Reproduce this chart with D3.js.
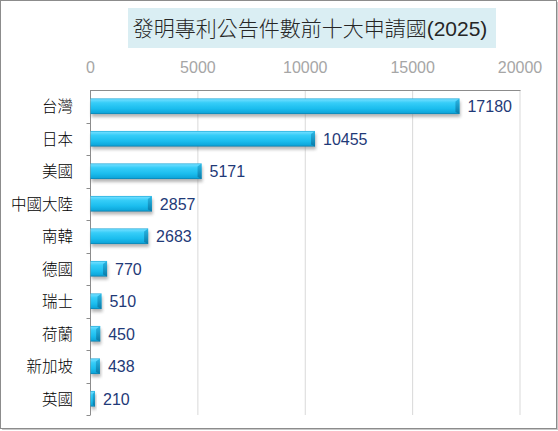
<!DOCTYPE html>
<html>
<head>
<meta charset="utf-8">
<script src="https://cdn.jsdelivr.net/npm/d3@7"></script>
<style>
body { margin: 0; background: #fff; }
text { font-family: "Liberation Sans", Arial, "Noto Sans CJK TC", sans-serif; }
.cjk { font-family: "Liberation Sans", "Noto Sans CJK TC", sans-serif; font-weight: 300; }
</style>
</head>
<body>
<div id="chart"></div>
<script>
let categories = ["台灣", "日本", "美國", "中國大陸", "南韓", "德國", "瑞士", "荷蘭", "新加坡", "英國"];
let values = [17180, 10455, 5171, 2857, 2683, 770, 510, 450, 438, 210];
let tickValues = [0, 5000, 10000, 15000, 20000];
let title = "發明專利公告件數前十大申請國(2025)";

let W = 558, H = 431;
let plotL = 90.5, plotR = 520, plotT = 90, plotB = 415;

let svg = d3.select("#chart").append("svg")
	.attr("width", W)
	.attr("height", H);

let defs = svg.append("defs");

let grad = defs.append("linearGradient")
	.attr("id", "barGrad")
	.attr("x1", 0).attr("y1", 0).attr("x2", 0).attr("y2", 1);
grad.append("stop").attr("offset", "0%").attr("stop-color", "#1aa6d6");
grad.append("stop").attr("offset", "8%").attr("stop-color", "#6adcff");
grad.append("stop").attr("offset", "28%").attr("stop-color", "#36cdf8");
grad.append("stop").attr("offset", "65%").attr("stop-color", "#1bbdee");
grad.append("stop").attr("offset", "90%").attr("stop-color", "#0fa8dc");
grad.append("stop").attr("offset", "100%").attr("stop-color", "#0a7fae");

let capGrad = defs.append("linearGradient")
	.attr("id", "capGrad")
	.attr("x1", 0).attr("y1", 0).attr("x2", 0).attr("y2", 1);
capGrad.append("stop").attr("offset", "0%").attr("stop-color", "#2cb9e6");
capGrad.append("stop").attr("offset", "100%").attr("stop-color", "#087aa8");

let blur = defs.append("filter").attr("id", "shadow")
	.attr("x", "-10%").attr("y", "-50%").attr("width", "130%").attr("height", "200%");
blur.append("feGaussianBlur").attr("stdDeviation", 1.5);

// outer frame
svg.append("rect")
	.attr("x", 2).attr("y", 2)
	.attr("width", 556).attr("height", 428)
	.attr("fill", "#c8c8c8");
svg.append("rect")
	.attr("x", 0.5).attr("y", 0.5)
	.attr("width", 556).attr("height", 428)
	.attr("fill", "#fff")
	.attr("stroke", "#8c8c8c");

// title
svg.append("rect")
	.attr("x", 128).attr("y", 8)
	.attr("width", 368).attr("height", 40)
	.attr("fill", "#daeef3");
svg.append("text")
	.attr("class", "cjk")
	.attr("x", 310).attr("y", 36)
	.attr("text-anchor", "middle")
	.attr("font-size", 21)
	.attr("fill", "#262626")
	.text(title);

let x = d3.scaleLinear().domain([0, 20000]).range([plotL, plotR]);
let y = d3.scaleBand().domain(categories).range([plotT, plotB])
	.paddingInner(0.52).paddingOuter(0.26);

// gridlines
svg.append("g").selectAll("line")
	.data(tickValues.slice(1))
	.enter().append("line")
	.attr("x1", function (d) { return x(d); })
	.attr("x2", function (d) { return x(d); })
	.attr("y1", plotT).attr("y2", plotB)
	.attr("stroke", "#d9d9d9")
	.attr("stroke-width", 1);

// top axis labels
svg.append("g").selectAll("text")
	.data(tickValues)
	.enter().append("text")
	.attr("x", function (d) { return x(d); })
	.attr("y", 73)
	.attr("text-anchor", "middle")
	.attr("font-size", 16)
	.attr("fill", "#a6a6a6")
	.text(function (d) { return d; });

// top border
svg.append("line")
	.attr("x1", plotL - 0.5).attr("x2", plotR + 0.5)
	.attr("y1", plotT + 0.5).attr("y2", plotT + 0.5)
	.attr("stroke", "#8c8c8c");

// left axis with ticks at band edges
let edges = categories.map(function (d, i) { return plotT + i * y.step(); });
edges.push(plotB);
svg.append("line")
	.attr("x1", plotL).attr("x2", plotL)
	.attr("y1", plotT).attr("y2", plotB)
	.attr("stroke", "#8c8c8c");
svg.append("g").selectAll("line")
	.data(edges.slice(1))
	.enter().append("line")
	.attr("x1", plotL - 4).attr("x2", plotL)
	.attr("y1", function (d) { return Math.round(d) + 0.5; })
	.attr("y2", function (d) { return Math.round(d) + 0.5; })
	.attr("stroke", "#8c8c8c");

// category labels
svg.append("g").selectAll("text")
	.data(categories)
	.enter().append("text")
	.attr("class", "cjk")
	.attr("x", 73)
	.attr("y", function (d) { return y(d) + y.bandwidth() / 2 + 6; })
	.attr("text-anchor", "end")
	.attr("font-size", 15.5)
	.attr("fill", "#000")
	.text(function (d) { return d; });

let rows = categories.map(function (c, i) { return { cat: c, val: values[i] }; });

let bars = svg.append("g").selectAll("g")
	.data(rows)
	.enter().append("g");

// shadow
bars.append("rect")
	.attr("x", plotL + 1)
	.attr("y", function (d) { return y(d.cat) + 3; })
	.attr("width", function (d) { return x(d.val) - plotL; })
	.attr("height", y.bandwidth())
	.attr("fill", "#7f7f7f")
	.attr("opacity", 0.55)
	.attr("filter", "url(#shadow)");

// bar body
bars.append("rect")
	.attr("x", plotL)
	.attr("y", function (d) { return y(d.cat); })
	.attr("width", function (d) { return x(d.val) - plotL; })
	.attr("height", y.bandwidth())
	.attr("fill", "url(#barGrad)");

// end cap bevel
bars.append("path")
	.attr("d", function (d) {
		let x1 = x(d.val), y0 = y(d.cat), h = y.bandwidth();
		let w = Math.min(4, (x1 - plotL) / 2);
		return "M" + (x1 - w) + "," + (y0 + 3) + "L" + x1 + "," + y0 +
			"L" + x1 + "," + (y0 + h) + "L" + (x1 - w) + "," + (y0 + h - 2) + "Z";
	})
	.attr("fill", "url(#capGrad)");

// value labels
bars.append("text")
	.attr("x", function (d) { return x(d.val) + 8; })
	.attr("y", function (d) { return y(d.cat) + y.bandwidth() / 2 + 6; })
	.attr("font-size", 16)
	.attr("fill", "#1f3a78")
	.text(function (d) { return d.val; });
</script>
</body>
</html>
